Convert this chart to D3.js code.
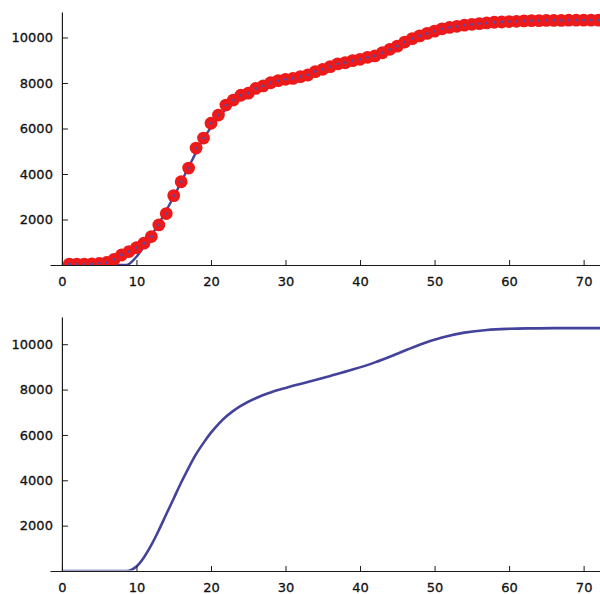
<!DOCTYPE html>
<html>
<head>
<meta charset="utf-8">
<script src="https://cdn.jsdelivr.net/npm/d3@7"></script>
<style>
  body { margin: 0; background: #fff; }
  svg text { font-family: "DejaVu Sans", Verdana, sans-serif; font-size: 13px; fill: #111; stroke: #111; stroke-width: 0.3px; }
</style>
</head>
<body>
<svg id="chart" width="600" height="594"></svg>
<script>
// Observed cumulative counts, one per day starting at day 1
const counts = [
  40, 40, 40, 50, 70, 110, 250, 440, 590, 760,
  960, 1250, 1760, 2260, 3050, 3660, 4260, 5140, 5580, 6230,
  6590, 7030, 7250, 7460, 7550, 7760, 7870, 8010, 8100, 8160,
  8200, 8280, 8350, 8500, 8600, 8720, 8840, 8890, 8980, 9040,
  9130, 9190, 9330, 9480, 9620, 9800, 9950, 10070, 10180, 10280,
  10380, 10440, 10490, 10540, 10580, 10610, 10640, 10670, 10680, 10700,
  10710, 10730, 10740, 10740, 10750, 10750, 10750, 10760, 10760, 10760,
  10760, 10760
];

// Fitted model, sampled at these days
const fitDays = [0, 2, 4, 6, 8, 8.7, 9.3, 10, 11, 12, 13, 14, 15, 16, 17, 18, 19, 20, 21, 22,
  23, 24, 26, 28, 30, 33, 36, 39, 42, 45, 48, 51, 54, 57, 60, 63, 66, 69, 72.6];
const fitTop = [0, 0, 0, 0, 0, 0, 120, 360, 800, 1300, 1820, 2400, 3000, 3650, 4300, 4950, 5550, 6050, 6500, 6850,
  7150, 7400, 7750, 7980, 8150, 8390, 8700, 8980, 9250, 9620, 10050, 10370, 10540, 10640, 10700, 10730, 10750, 10760, 10760];
const fitBottom = [0, 0, 0, 0, 0, 0, 50, 200, 600, 1150, 1800, 2500, 3200, 3900, 4550, 5150, 5650, 6100, 6480, 6800,
  7060, 7280, 7620, 7870, 8070, 8330, 8600, 8880, 9200, 9580, 9980, 10300, 10510, 10630, 10680, 10700, 10710, 10710, 10710];

// Axis ticks
const xTickValues = [0, 10, 20, 30, 40, 50, 60, 70];
const xTickLabels = ["0", "10", "20", "30", "40", "50", "60", "70"];
const yTickValues = [2000, 4000, 6000, 8000, 10000];
const yTickLabels = ["2000", "4000", "6000", "8000", "10000"];

const svg = d3.select("#chart");
const lineColor = "#43439c";
const pointColor = "#ec1a1a";

const x = d3.scaleLinear().domain([-1.6, 72.6]).range([50, 603]);

function drawAxes(g, y, x0px, y0px) {
  const xMinor = d3.range(2, 73, 2).filter(v => v % 10 !== 0);
  const yMinor = d3.range(500, 11001, 500).filter(v => v % 2000 !== 0);

  // x axis: ticks point up into the plot
  const xa = g.append("g").attr("transform", `translate(0,${y0px})`);
  xa.call(d3.axisBottom(x).tickValues(xMinor).tickSize(-3).tickSizeOuter(0).tickFormat(""));
  xa.call(d3.axisBottom(x).tickValues(xTickValues).tickSize(-5).tickSizeOuter(0).tickPadding(12)
    .tickFormat((d, i) => xTickLabels[i]));

  // y axis: ticks point right into the plot
  const ya = g.append("g").attr("transform", `translate(${x0px},0)`);
  ya.call(d3.axisLeft(y).tickValues(yMinor).tickSize(-4).tickSizeOuter(0).tickFormat(""));
  ya.call(d3.axisLeft(y).tickValues(yTickValues).tickSize(-6).tickSizeOuter(0).tickPadding(9)
    .tickFormat((d, i) => yTickLabels[i]));

  g.selectAll(".domain").attr("stroke", "#1a1a1a").attr("stroke-width", 1.2);
  g.selectAll(".tick line").attr("stroke", "#1a1a1a").attr("stroke-width", 1);
  g.selectAll(".tick text").attr("font-size", null).attr("font-family", null).attr("fill", null);
}

// ---- Top panel: data points with fitted curve ----
const yTop = d3.scaleLinear().domain([0, 11120]).range([265, 12]);
const topPanel = svg.append("g");

topPanel.append("clipPath").attr("id", "clipTop")
  .append("rect").attr("x", 50).attr("y", 0).attr("width", 553).attr("height", 265);

const fitTopData = fitDays.map((d, i) => ({ day: d, v: fitTop[i] }));
const pts = counts.map((v, i) => ({ day: i + 1, v }));

const plotTop = topPanel.append("g").attr("clip-path", "url(#clipTop)");
plotTop.append("path")
  .datum(fitTopData)
  .attr("fill", "none")
  .attr("stroke", lineColor)
  .attr("stroke-width", 2.4)
  .attr("d", d3.line().x(d => x(d.day)).y(d => yTop(d.v)).curve(d3.curveMonotoneX));

plotTop.selectAll("circle.pt").data(pts).join("circle")
  .attr("class", "pt")
  .attr("cx", d => x(d.day)).attr("cy", d => yTop(d.v))
  .attr("r", 6.4).attr("fill", pointColor);

plotTop.selectAll("circle.ctr").data(pts).join("circle")
  .attr("class", "ctr")
  .attr("cx", d => x(d.day)).attr("cy", d => yTop(d.v))
  .attr("r", 1.4).attr("fill", "#5a4aa8");

drawAxes(topPanel, yTop, x(0), 265);

// ---- Bottom panel: fitted curve only ----
const yBot = d3.scaleLinear().domain([0, 11200]).range([571, 317]);
const bottomPanel = svg.append("g");
const fitBotData = fitDays.map((d, i) => ({ day: d, v: fitBottom[i] }));

bottomPanel.append("clipPath").attr("id", "clipBot")
  .append("rect").attr("x", 50).attr("y", 300).attr("width", 553).attr("height", 270.4);

bottomPanel.append("g").attr("clip-path", "url(#clipBot)")
  .append("path")
  .datum(fitBotData)
  .attr("fill", "none")
  .attr("stroke", lineColor)
  .attr("stroke-width", 2.6)
  .attr("d", d3.line().x(d => x(d.day)).y(d => yBot(d.v)).curve(d3.curveMonotoneX));

drawAxes(bottomPanel, yBot, x(0), 571);
</script>
</body>
</html>
